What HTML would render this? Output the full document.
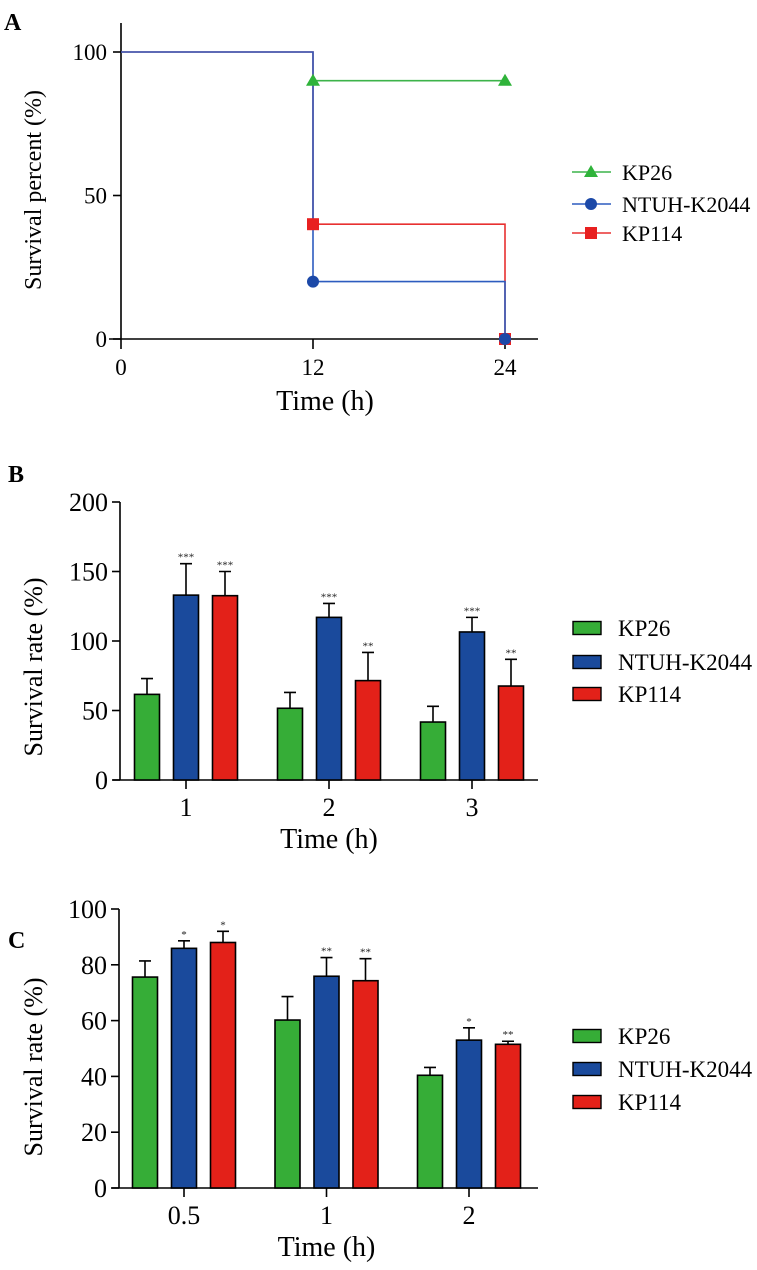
<!DOCTYPE html>
<html><head><meta charset="utf-8">
<style>
html,body{margin:0;padding:0;background:#fff;}
svg{display:block;font-family:"Liberation Serif",serif;}
</style></head>
<body>
<svg id="fig" width="757" height="1270" viewBox="0 0 757 1270" xmlns="http://www.w3.org/2000/svg"></svg>
<script>
// ---- Panel A data ----
const aTimes = [0, 12, 24];
const aKP26 = [100, 90, 90];
const aNTUH = [100, 20, 0];
const aKP114 = [100, 40, 0];
const aYTicks = [0, 50, 100];
const aXTicks = [0, 12, 24];
// ---- Panel B data ----
const bCats = ["1", "2", "3"];
const bKP26 = [61.6, 51.6, 41.7];
const bKP26Err = [11.4, 11.4, 11.3];
const bNTUH = [133, 117, 106.5];
const bNTUHErr = [22.6, 10, 10.5];
const bKP114 = [132.6, 71.5, 67.6];
const bKP114Err = [17.4, 20.3, 19.2];
const bStars = [["", "***", "***"], ["", "***", "**"], ["", "***", "**"]];
const bYTicks = [0, 50, 100, 150, 200];
// ---- Panel C data ----
const cCats = ["0.5", "1", "2"];
const cKP26 = [75.6, 60.2, 40.4];
const cKP26Err = [5.8, 8.4, 2.8];
const cNTUH = [85.9, 75.9, 53];
const cNTUHErr = [2.7, 6.7, 4.4];
const cKP114 = [88, 74.3, 51.5];
const cKP114Err = [4, 7.9, 1.1];
const cStars = [["", "*", "*"], ["", "**", "**"], ["", "*", "**"]];
const cYTicks = [0, 20, 40, 60, 80, 100];
const seriesNames = ["KP26", "NTUH-K2044", "KP114"];

const NS = "http://www.w3.org/2000/svg";
const svg = document.getElementById("fig");
function el(tag, attrs, parent, text) {
  const e = document.createElementNS(NS, tag);
  for (const k in attrs) e.setAttribute(k, attrs[k]);
  if (text !== undefined) e.textContent = text;
  (parent || svg).appendChild(e);
  return e;
}
function group(name) {
  const g = document.createElementNS(NS, "g");
  
  
  svg.appendChild(g);
  return g;
}

// ================= Panel A =================
(function () {
  const g = group("panel-a");
  const x = t => 121 + (t / 24) * 384;
  const y = v => 339 - (v / 100) * 287;
  let t = el("text", {x: 4, y: 30, "font-size": 24, "font-weight": "bold"}, g, "A");
  
  
  // axes
  let ax = el("path", {d: `M121 23 V339 M109 339 H538`, stroke: "#000", "stroke-width": 1.6, fill: "none"}, g);
  
  
  aYTicks.forEach(v => {
    el("line", {x1: 113, x2: 121, y1: y(v), y2: y(v), stroke: "#000", "stroke-width": 1.6}, g);
    const l = el("text", {x: 107, y: y(v) + 8, "font-size": 23, "text-anchor": "end"}, g, String(v));
    
    
  });
  aXTicks.forEach(v => {
    el("line", {x1: x(v), x2: x(v), y1: 339, y2: 349, stroke: "#000", "stroke-width": 1.6}, g);
    const l = el("text", {x: x(v), y: 375, "font-size": 23, "text-anchor": "middle"}, g, String(v));
    
    
  });
  let xt = el("text", {x: 325, y: 410, "font-size": 28, "text-anchor": "middle"}, g, "Time (h)");
  
  
  let yt = el("text", {x: 0, y: 0, "font-size": 24, "text-anchor": "middle", transform: "translate(41,190) rotate(-90)"}, g, "Survival percent (%)");
  
  

  function stepPath(vals) {
    let d = `M${x(aTimes[0])} ${y(vals[0])}`;
    for (let i = 1; i < aTimes.length; i++) {
      d += ` H${x(aTimes[i])} V${y(vals[i])}`;
    }
    return d;
  }
  // red
  let pr = el("path", {d: stepPath(aKP114), stroke: "#e83030", "stroke-width": 1.6, fill: "none"}, g);
  
  
  // green: starts at first drop
  let dg = `M${x(aTimes[1])} ${y(aKP26[1])}`;
  for (let i = 2; i < aTimes.length; i++) dg += ` H${x(aTimes[i])} V${y(aKP26[i])}`;
  let pg = el("path", {d: dg, stroke: "#3cb34a", "stroke-width": 1.6, fill: "none"}, g);
  
  
  let pb = el("path", {d: stepPath(aNTUH), stroke: "#2d5cbf", "stroke-width": 1.6, fill: "none"}, g);
  
  
  for (let i = 1; i < aTimes.length; i++) {
    const sq = el("rect", {x: x(aTimes[i]) - 6, y: y(aKP114[i]) - 6, width: 12, height: 12, fill: "#e82020"}, g);
    
    
    const tr = el("path", {d: `M${x(aTimes[i])} ${y(aKP26[i]) - 7} L${x(aTimes[i]) + 7} ${y(aKP26[i]) + 5} L${x(aTimes[i]) - 7} ${y(aKP26[i]) + 5} Z`, fill: "#2fb33a"}, g);
    
    
    const c = el("circle", {cx: x(aTimes[i]), cy: y(aNTUH[i]), r: 6, fill: "#1c49a8"}, g);
    
    
  }
  // legend
  const lg = group("panel-a-legend");
  const cols = ["#3cb34a", "#2d5cbf", "#e83030"];
  const mcols = ["#2fb33a", "#1c49a8", "#e82020"];
  const ly = [172, 204, 233];
  for (let i = 0; i < 3; i++) {
    const ent = el("g", {}, lg);
    
    
    el("line", {x1: 572, x2: 611, y1: ly[i], y2: ly[i], stroke: cols[i], "stroke-width": 1.6}, ent);
    if (i === 0) el("path", {d: `M591 ${ly[i] - 7} L598 ${ly[i] + 5} L584 ${ly[i] + 5} Z`, fill: mcols[i]}, ent);
    if (i === 1) el("circle", {cx: 591, cy: ly[i], r: 6, fill: mcols[i]}, ent);
    if (i === 2) el("rect", {x: 585, y: ly[i] - 6, width: 12, height: 12, fill: mcols[i]}, ent);
    el("text", {x: 622, y: ly[i] + 8, "font-size": 22}, ent, seriesNames[i]);
  }
})();

// ================= Bar panels =================
function barPanel(opt) {
  const g = group(opt.name);
  const y = v => opt.y0 - (v / opt.ymax) * (opt.y0 - opt.ytop);
  const colors = ["#36ad37", "#1a4a9c", "#e32119"];
  const series = [opt.s1, opt.s2, opt.s3];
  const errs = [opt.e1, opt.e2, opt.e3];
  let t = el("text", {x: 8, y: opt.labelY + 9, "font-size": 24, "font-weight": "bold"}, g, opt.letter);
  
  
  let ax = el("path", {d: `M${opt.ax} ${opt.ytop} V${opt.y0} M${opt.ax - 7} ${opt.y0} H538`, stroke: "#000", "stroke-width": 1.6, fill: "none"}, g);
  
  
  opt.yticks.forEach(v => {
    el("line", {x1: opt.ax - 8, x2: opt.ax, y1: y(v), y2: y(v), stroke: "#000", "stroke-width": 1.6}, g);
    const l = el("text", {x: opt.ax - 12, y: y(v) + 9, "font-size": 26, "text-anchor": "end"}, g, String(v));
    
    
  });
  const groupX = i => opt.gx0 + i * opt.gstep;
  opt.cats.forEach((c, i) => {
    const cx = groupX(i);
    el("line", {x1: cx, x2: cx, y1: opt.y0, y2: opt.y0 + 9, stroke: "#000", "stroke-width": 1.6}, g);
    const l = el("text", {x: cx, y: opt.y0 + 36, "font-size": 26, "text-anchor": "middle"}, g, c);
    
    
    for (let s = 0; s < 3; s++) {
      const bx = cx + (s - 1) * 39 - 12.5;
      const v = series[s][i], e = errs[s][i];
      const ln = el("path", {d: `M${bx + 12.5} ${y(v)} V${y(v + e)} M${bx + 6.5} ${y(v + e)} H${bx + 18.5}`, stroke: "#000", "stroke-width": 1.6, fill: "none"}, g);
      
      
      const r = el("rect", {x: bx, y: y(v), width: 25, height: opt.y0 - y(v), fill: colors[s], stroke: "#000", "stroke-width": 1.6}, g);
      
      
      const st = opt.stars[i][s];
      if (st) {
        const sx = el("text", {x: bx + 12.5, y: y(v + e) - 3, "font-size": 11, "text-anchor": "middle", fill: "#222"}, g, st);
        
        
      }
    }
  });
  let xt = el("text", {x: opt.gx0 + opt.gstep, y: opt.y0 + 68, "font-size": 28, "text-anchor": "middle"}, g, "Time (h)");
  
  
  let yt = el("text", {x: 0, y: 0, "font-size": 26, "text-anchor": "middle", transform: `translate(42,${opt.ytitleY}) rotate(-90)`}, g, "Survival rate (%)");
  
  
  const lg = group(opt.name + "-legend");
  for (let i = 0; i < 3; i++) {
    const ent = el("g", {}, lg);
    
    
    const ly = opt.legY[i];
    el("rect", {x: 573, y: ly - 6.5, width: 28, height: 13, fill: colors[i], stroke: "#000", "stroke-width": 1.4}, ent);
    el("text", {x: 618, y: ly + 8, "font-size": 23}, ent, seriesNames[i]);
  }
}
barPanel({name: "panel-b", letter: "B", labelY: 473, ax: 120, y0: 780, ytop: 502, ymax: 200,
  yticks: bYTicks, cats: bCats, s1: bKP26, s2: bNTUH, s3: bKP114, e1: bKP26Err, e2: bNTUHErr, e3: bKP114Err,
  stars: bStars, gx0: 186, gstep: 143, ytitleY: 667, legY: [628, 662, 694]});
barPanel({name: "panel-c", letter: "C", labelY: 939, ax: 119, y0: 1188, ytop: 909, ymax: 100,
  yticks: cYTicks, cats: cCats, s1: cKP26, s2: cNTUH, s3: cKP114, e1: cKP26Err, e2: cNTUHErr, e3: cKP114Err,
  stars: cStars, gx0: 184, gstep: 142.5, ytitleY: 1067, legY: [1036, 1069, 1102]});
</script>
</body></html>
